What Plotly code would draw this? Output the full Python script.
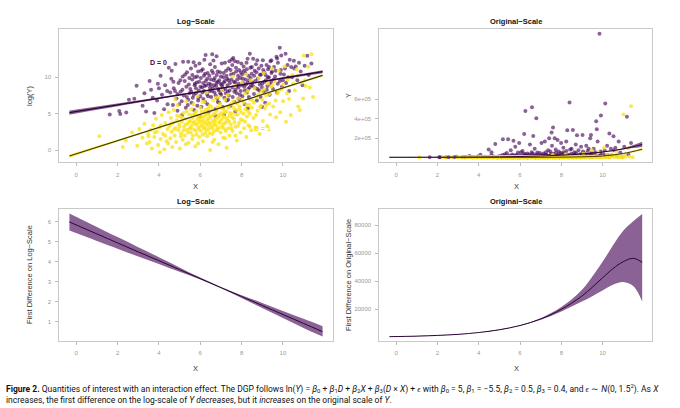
import numpy as np
import plotly.graph_objects as go

d0_points = [
    (1.62, 4.9), (2.08, 5.35), (2.13, 4.95), (2.42, 5.15), (2.55, 6.9), (2.81, 7.05), (2.92, 8.85), (3.21, 6.1), (3.38, 5.3),
    (3.55, 9.5), (3.62, 8.3), (3.78, 5.1), (3.91, 6.8), (4.08, 10.2), (4.15, 7.6), (3.7, 7.2), (4.3, 8.9), (4.42, 6.3),
    (4.25, 5.6), (3.95, 9.1), (4.48, 11.3),
    (4.55, 7.9), (4.6, 9.8), (4.68, 6.2), (4.72, 8.5), (4.8, 11.84), (4.85, 7.1), (4.9, 5.4), (4.95, 9.2), (5.17, 12.14),
    (5.05, 8.0), (5.1, 6.7), (5.15, 10.1), (5.2, 7.5), (5.25, 9.5), (5.3, 5.8), (5.33, 8.7), (5.42, 12.14), (5.42, 6.9),
    (5.45, 9.0), (5.48, 7.8), (4.62, 10.9), (5.12, 4.8), (4.78, 8.1), (5.36, 10.7), (4.98, 6.3),
    (5.52, 8.4), (5.55, 11.2), (5.58, 6.5), (5.61, 9.7), (5.64, 7.2), (5.68, 12.06), (5.7, 5.5), (5.73, 8.9), (5.77, 11.6),
    (5.8, 7.8), (5.83, 9.3), (5.86, 6.1), (5.9, 10.8), (5.93, 8.2), (5.96, 11.9), (6.0, 7.4), (6.03, 9.9), (6.06, 5.9),
    (6.09, 8.6), (6.12, 11.1), (6.15, 7.0), (6.18, 10.2), (6.21, 8.8), (6.24, 6.6), (6.27, 9.5), (6.26, 13.08), (6.33, 7.7),
    (6.36, 10.6), (6.39, 5.2), (6.42, 9.1), (6.45, 8.1), (6.48, 11.8), (5.98, 4.6), (6.2, 12.4), (5.75, 10.0),
    (6.51, 9.0), (6.53, 7.3), (6.56, 10.9), (6.58, 13.16), (6.61, 8.5), (6.64, 12.3), (6.66, 9.6), (6.69, 7.9), (6.71, 11.4),
    (6.74, 5.6), (6.77, 8.8), (6.8, 10.3), (6.82, 7.1), (6.85, 9.4), (6.79, 12.91), (6.9, 8.2), (6.93, 6.5), (6.96, 10.7),
    (6.98, 9.1), (7.01, 7.6), (7.04, 11.9), (7.06, 8.7), (7.09, 5.9), (7.12, 10.0), (7.14, 9.3), (7.17, 7.2), (7.2, 12.0),
    (7.22, 8.4), (7.25, 10.9), (7.28, 6.8), (7.3, 9.8), (7.33, 8.0), (7.36, 11.2), (7.38, 7.5), (7.41, 12.2), (7.44, 9.2),
    (7.46, 6.1), (7.49, 10.4), (6.72, 4.7), (7.15, 4.9),
    (7.53, 12.46), (7.55, 11.7), (7.57, 7.3), (7.6, 12.64), (7.63, 9.4), (7.66, 6.6), (7.68, 12.2), (7.71, 8.3), (7.74, 10.8),
    (7.77, 7.8), (7.79, 9.7), (7.82, 12.1), (7.85, 8.6), (7.88, 11.0), (7.9, 6.9), (7.93, 9.9), (7.96, 8.1), (7.99, 11.9),
    (8.02, 10.4), (8.04, 7.4), (8.07, 9.2), (8.1, 11.5), (8.13, 8.7), (8.15, 6.3), (8.18, 10.6), (8.21, 9.0), (8.24, 12.0),
    (8.26, 7.9), (8.29, 12.54), (8.32, 8.4), (8.4, 13.25), (8.38, 9.6), (8.4, 7.1), (8.43, 11.3), (8.46, 8.9), (8.49, 10.5),
    (7.7, 5.3), (8.3, 5.7),
    (8.52, 9.3), (8.56, 12.55), (8.6, 7.7), (8.63, 10.9), (8.67, 8.5), (8.7, 11.8), (8.74, 6.8), (8.76, 12.34), (8.78, 9.8),
    (8.85, 8.2), (8.89, 10.3), (8.92, 7.3), (8.96, 11.6), (9.0, 9.1), (9.03, 12.35), (9.07, 8.0), (9.1, 10.7), (9.14, 6.5),
    (9.18, 9.6), (9.21, 11.7), (9.25, 8.8), (9.28, 11.1), (9.32, 10.0), (9.36, 7.6), (9.4, 12.2), (9.44, 12.35), (9.43, 9.4),
    (9.47, 10.8), (9.0, 5.9),
    (9.52, 8.4), (9.57, 11.4), (9.62, 10.1), (9.69, 12.83), (9.71, 7.9), (9.72, 12.58), (9.76, 12.0), (9.85, 14.06),
    (9.85, 9.5), (9.9, 11.0), (9.92, 12.98), (9.95, 8.7), (10.05, 10.4), (10.13, 13.23), (10.15, 9.2), (10.22, 11.7),
    (10.3, 8.1), (10.33, 12.42), (10.44, 10.0),
    (10.53, 12.29), (10.55, 11.2), (10.62, 11.5), (10.7, 9.6), (10.78, 12.0), (10.86, 10.8), (10.95, 8.9), (11.05, 11.6),
    (11.18, 12.95), (11.25, 10.3), (11.38, 11.9),
    # dense core
    (5.04, 9.6), (5.14, 8.3), (5.27, 10.4), (5.35, 7.3), (5.47, 9.9), (5.57, 8.0), (5.62, 10.3), (5.69, 7.6), (5.74, 9.1),
    (5.79, 8.5), (5.85, 10.1), (5.91, 7.2), (5.95, 9.4), (6.01, 8.7), (6.05, 10.9), (6.1, 7.9), (6.14, 9.2), (6.19, 8.1),
    (6.23, 10.5), (6.29, 8.9), (6.34, 9.8), (6.38, 7.4), (6.44, 10.2), (6.47, 8.6), (6.52, 9.7), (6.57, 8.1), (6.62, 10.6),
    (6.67, 8.9), (6.7, 9.9), (6.75, 7.5), (6.79, 9.2), (6.84, 10.8), (6.88, 8.4), (6.92, 9.6), (6.97, 7.8), (7.0, 10.1),
    (7.05, 9.0), (7.1, 8.3), (7.13, 10.6), (7.19, 9.5), (7.24, 7.8), (7.27, 10.2), (7.32, 8.9), (7.37, 9.6), (7.42, 8.2),
    (7.47, 11.0), (7.51, 9.7), (7.56, 8.6), (7.61, 10.5), (7.65, 8.0), (7.69, 9.3), (7.73, 11.3), (7.78, 8.8), (7.83, 10.2),
    (7.87, 9.1), (7.92, 7.6), (7.97, 10.7), (8.01, 8.9), (8.06, 9.8), (8.11, 10.9), (8.16, 8.2), (8.2, 9.7), (8.25, 11.1),
    (8.3, 9.3), (8.34, 10.2), (8.39, 8.6), (8.44, 9.9), (8.5, 11.4), (8.55, 8.8), (8.61, 10.2), (8.66, 9.5), (8.72, 10.7),
    (8.77, 8.4), (8.83, 11.2), (8.88, 9.0), (8.94, 10.4), (8.99, 8.6), (9.05, 11.0), (9.11, 9.4), (9.16, 10.3), (9.22, 8.3),
    (9.27, 10.0), (9.33, 11.4), (9.39, 9.0), (9.45, 10.6), (9.55, 9.7), (9.65, 10.9), (9.75, 9.1), (9.88, 10.5), (10.0, 9.6),
    (10.1, 11.2), (10.25, 10.0), (10.4, 11.4), (5.4, 6.2), (5.9, 6.8), (6.35, 6.3), (6.85, 6.6), (7.35, 6.9), (7.85, 7.1),
    (8.35, 7.3), (4.4, 8.1), (4.7, 9.4), (4.9, 7.7), (3.3, 7.8), (4.0, 8.5),
]

d1_points = [
    (1.12, 1.9), (2.25, 0.4), (2.4, 1.3), (2.7, 2.4), (2.95, 0.6), (3.05, 2.9), (3.2, 1.7), (3.3, 3.6), (3.42, 0.9), (3.48, 2.2),
    (3.55, 1.1), (3.6, 2.8), (3.66, 0.2), (3.72, 3.4), (3.78, 1.8), (3.85, 4.3), (3.9, 2.5), (3.96, 0.7), (4.02, 3.1),
    (4.08, 1.5), (4.14, 4.8), (4.2, 2.2), (4.26, 0.1), (4.31, 3.7), (4.37, 1.2), (4.42, 2.9), (4.47, 5.2), (4.05, -0.3),
    (4.52, 3.3), (4.55, 1.6), (4.58, 4.4), (4.62, 2.5), (4.65, 0.4), (4.69, 3.8), (4.72, 5.5), (4.76, 2.0), (4.8, 3.0),
    (4.83, 1.1), (4.87, 4.1), (4.9, 6.2), (4.94, 2.7), (4.97, 3.5), (5.01, 0.2), (5.04, 4.6), (5.08, 2.3), (5.11, 3.9),
    (5.15, 1.4), (5.18, 5.1), (5.22, 3.2), (5.25, 2.0), (5.29, 4.3), (5.32, 6.7), (5.36, 2.8), (5.39, 3.6), (5.43, 1.0),
    (5.46, 4.9), (5.49, 3.0), (4.78, 7.0),
    (5.51, 4.0), (5.53, 2.4), (5.56, 5.6), (5.58, 3.3), (5.61, 1.5), (5.63, 4.4), (5.66, 3.7), (5.68, 6.3), (5.71, 2.8),
    (5.73, 4.9), (5.76, 0.5), (5.78, 3.5), (5.81, 5.3), (5.83, 2.1), (5.86, 4.2), (5.88, 7.4), (5.91, 3.1), (5.93, 4.7),
    (5.96, 1.8), (5.98, 3.9), (6.01, 5.8), (6.03, 2.6), (6.06, 4.5), (6.08, 3.4), (6.11, 6.6), (6.13, 1.2), (6.16, 4.1),
    (6.18, 3.0), (6.21, 5.2), (6.23, 2.3), (6.26, 4.8), (6.28, 3.6), (6.31, 7.9), (6.33, 1.9), (6.36, 4.3), (6.38, 5.7),
    (6.41, 2.9), (6.43, 3.8), (6.46, 6.1), (6.48, 0.0),
    (6.51, 4.6), (6.53, 3.2), (6.56, 5.4), (6.58, 2.2), (6.61, 4.0), (6.63, 6.8), (6.66, 3.5), (6.68, 1.4), (6.71, 5.0),
    (6.73, 3.9), (6.76, 7.2), (6.78, 2.7), (6.81, 4.4), (6.83, 5.9), (6.86, 3.1), (6.88, 0.8), (6.91, 4.8), (6.93, 3.7),
    (6.96, 6.4), (6.98, 2.4), (7.01, 5.1), (7.03, 4.2), (7.06, 8.3), (7.08, 3.3), (7.11, 1.7), (7.13, 5.6), (7.16, 4.5),
    (7.18, 2.9), (7.21, 6.9), (7.23, 3.8), (7.26, 5.3), (7.28, 0.3), (7.31, 4.1), (7.33, 7.6), (7.36, 3.0), (7.38, 5.8),
    (7.41, 2.0), (7.43, 4.7), (7.46, 6.3), (7.48, 3.5),
    (7.52, 5.0), (7.56, 2.6), (7.6, 6.7), (7.63, 4.3), (7.67, 8.8), (7.7, 3.2), (7.74, 5.5), (7.77, 1.3), (7.81, 4.9),
    (7.84, 7.1), (7.88, 3.7), (7.91, 6.0), (7.95, 2.4), (7.98, 5.2), (8.02, 9.2), (8.05, 4.1), (8.09, 6.5), (8.12, 3.0),
    (8.16, 7.8), (8.19, 5.6), (8.23, 1.8), (8.26, 4.6), (8.3, 8.1), (8.33, 3.4), (8.37, 6.2), (8.4, 5.0), (8.44, 9.6),
    (8.47, 2.7), (7.58, 10.1), (8.21, 10.4),
    (8.53, 6.8), (8.58, 4.4), (8.63, 8.5), (8.68, 3.1), (8.73, 7.3), (8.78, 5.4), (8.83, 9.9), (8.88, 2.2), (8.93, 6.1),
    (8.98, 8.0), (9.03, 4.0), (9.08, 10.6), (9.13, 5.7), (9.18, 7.5), (9.23, 3.3), (9.28, 9.1), (9.33, 6.4), (9.38, 4.9),
    (9.43, 8.7), (9.48, 11.2),
    (9.53, 6.0), (9.6, 9.4), (9.67, 4.5), (9.74, 7.8), (9.8, 10.9), (9.87, 5.2), (9.94, 8.4), (10.01, 6.7), (10.08, 11.5),
    (10.15, 3.9), (10.22, 9.7), (10.3, 7.0), (10.38, 4.8), (10.45, 10.3),
    (10.58, 8.2), (10.66, 11.1), (10.74, 6.0), (10.82, 5.5), (10.9, 9.3), (10.98, 7.1), (11.01, 13.0), (11.06, 9.6),
    (11.23, 11.46), (11.38, 13.18), (11.46, 7.3), (11.3, 8.6),
    # dense core
    (4.6, 3.6), (4.75, 2.9), (4.88, 4.7), (5.0, 3.2), (5.06, 1.9), (5.13, 4.4), (5.2, 2.7), (5.28, 3.5), (5.34, 5.3),
    (5.41, 2.4), (5.47, 3.9), (5.54, 3.0), (5.6, 4.8), (5.65, 2.0), (5.7, 3.9), (5.75, 5.1), (5.8, 2.6), (5.85, 3.6),
    (5.89, 4.6), (5.94, 2.9), (6.0, 4.1), (6.04, 3.3), (6.07, 5.3), (6.12, 2.1), (6.15, 3.8), (6.19, 4.6), (6.22, 3.1),
    (6.27, 5.5), (6.3, 2.7), (6.34, 4.0), (6.37, 3.4), (6.4, 4.9), (6.44, 2.3), (6.47, 4.4), (6.5, 3.6), (6.55, 5.9),
    (6.59, 3.0), (6.62, 4.8), (6.65, 2.5), (6.7, 4.2), (6.74, 3.4), (6.79, 5.4), (6.84, 2.8), (6.89, 4.6), (6.94, 3.9),
    (6.99, 5.8), (7.04, 3.1), (7.09, 4.8), (7.14, 3.6), (7.19, 5.2), (7.24, 2.6), (7.29, 4.4), (7.34, 6.0), (7.39, 3.9),
    (7.44, 5.1), (7.5, 3.0), (7.55, 4.5), (7.61, 5.8), (7.66, 3.8), (7.72, 4.9), (7.78, 6.4), (7.83, 3.3), (7.9, 5.6),
    (7.96, 4.2), (8.03, 6.9), (8.1, 5.0), (8.17, 3.9), (8.25, 6.2), (8.32, 5.3), (8.42, 7.0), (8.5, 5.8), (8.6, 6.5),
    (8.7, 4.8), (8.8, 7.6), (8.9, 5.9), (9.0, 6.9), (9.1, 8.4), (9.2, 6.2), (9.35, 7.7), (9.5, 8.9), (9.65, 6.8), (9.8, 8.1),
    (10.0, 9.0), (10.2, 7.8), (10.5, 9.1), (10.7, 10.2), (11.1, 8.8), (4.3, 2.0), (4.1, 3.4), (3.8, 2.4), (3.5, 1.9),
    (4.45, 0.9), (5.3, 0.8), (5.9, 0.9), (6.6, 1.1), (7.2, 1.6), (7.7, 2.0), (8.4, 3.2), (6.2, 6.6), (6.9, 7.3),
]

# fitted regression lines on the log scale
fit_x = [-0.33, 6.9, 11.92]
fit_d0 = [5.14, 8.45, 10.77]
fit_d0_lo = [4.86, 8.38, 10.57]
fit_d0_hi = [5.42, 8.52, 10.97]
fit_d1 = [-0.83, 5.72, 10.27]
fit_d1_lo = [-1.05, 5.66, 10.11]
fit_d1_hi = [-0.61, 5.78, 10.43]

# fitted curves on the original scale
orig_x = [-0.33, 1, 2, 3, 4, 5, 6, 7, 8, 9, 10, 11, 11.92]
orig_d0 = [480, 880, 1400, 2220, 3500, 5550, 8800, 14000, 22100, 35000, 55500, 88000, 133000]
orig_d0_lo = [430, 820, 1330, 2130, 3390, 5420, 8620, 13700, 21500, 33800, 52800, 82000, 106000]
orig_d0_hi = [530, 940, 1470, 2310, 3610, 5680, 8980, 14300, 22700, 36200, 58200, 94000, 162000]
orig_d1 = [1.3, 4.2, 10, 25, 62, 152, 375, 920, 2260, 5570, 13700, 40000, 84000]
orig_d1_lo = [1.0, 3.5, 8.5, 21, 54, 135, 340, 850, 2120, 5250, 12800, 36000, 72000]
orig_d1_hi = [1.6, 4.9, 11.5, 29, 70, 169, 410, 990, 2400, 5900, 14600, 44000, 96000]

# first differences, log scale
fd_x = [-0.33, 1, 2, 3, 4, 5, 6, 7, 8, 9, 10, 11, 11.92]
fd_log = [6.0, 5.40, 4.95, 4.50, 4.06, 3.61, 3.16, 2.71, 2.26, 1.81, 1.36, 0.91, 0.50]
fd_log_lo = [5.57, 5.05, 4.66, 4.27, 3.89, 3.50, 3.11, 2.68, 2.19, 1.68, 1.18, 0.68, 0.25]
fd_log_hi = [6.43, 5.75, 5.24, 4.73, 4.23, 3.72, 3.21, 2.74, 2.33, 1.94, 1.54, 1.14, 0.77]

# first differences, original scale
fo_x = [-0.33, 1, 2, 3, 4, 5, 6, 7, 8, 9, 10, 10.5, 11, 11.5, 11.92]
fd_orig = [480, 870, 1390, 2140, 3450, 5420, 8450, 13100, 20000, 29500, 42500, 49000, 54000, 56400, 53600]
fd_orig_lo = [470, 850, 1360, 2100, 3380, 5300, 8200, 12500, 18500, 25500, 33500, 37500, 39500, 36500, 25500]
fd_orig_hi = [490, 890, 1420, 2180, 3520, 5540, 8700, 13700, 21600, 34000, 54000, 65500, 76000, 83000, 88000]

x_ticks = [0, 2, 4, 6, 8, 10]
logy_ticks = [0, 5, 10]
y_ticks = [200000, 400000, 600000]
y_ticktext = ["2e+05", "4e+05", "6e+05"]
fdlog_ticks = [1, 2, 3, 4, 5, 6]
fdorig_ticks = [20000, 40000, 60000, 80000]

x0, logy0 = zip(*d0_points)
x1, logy1 = zip(*d1_points)
y0 = np.exp(logy0)
y1 = np.exp(logy1)

PURPLE = "#440154"
PT0 = "rgba(68,1,84,0.62)"
PT1 = "rgba(250,228,30,0.8)"
BAND = "rgba(68,1,84,0.62)"
BAND_Y = "rgba(253,231,37,0.85)"
DARK = "#2a0636"
OLIVE = "#3d3a05"

fig = go.Figure()


def band(x, lo, hi, color, xa, ya):
    fig.add_trace(go.Scatter(x=x, y=lo, mode="lines", line=dict(width=0), xaxis=xa, yaxis=ya,
                             line_shape="spline", hoverinfo="skip"))
    fig.add_trace(go.Scatter(x=x, y=hi, mode="lines", line=dict(width=0), fill="tonexty",
                             fillcolor=color, xaxis=xa, yaxis=ya, line_shape="spline", hoverinfo="skip"))


def line(x, y, color, width, xa, ya):
    fig.add_trace(go.Scatter(x=x, y=y, mode="lines", line=dict(color=color, width=width, shape="spline"),
                             xaxis=xa, yaxis=ya))


# top left: log scale scatter
fig.add_trace(go.Scatter(x=x0, y=logy0, mode="markers", marker=dict(size=4, color=PT0), xaxis="x", yaxis="y"))
fig.add_trace(go.Scatter(x=x1, y=logy1, mode="markers", marker=dict(size=4, color=PT1), xaxis="x", yaxis="y"))
band(fit_x, fit_d0_lo, fit_d0_hi, BAND, "x", "y")
line(fit_x, fit_d0, DARK, 1.2, "x", "y")
band(fit_x, fit_d1_lo, fit_d1_hi, BAND_Y, "x", "y")
line(fit_x, fit_d1, OLIVE, 1.2, "x", "y")

# top right: original scale scatter
fig.add_trace(go.Scatter(x=x0, y=y0, mode="markers", marker=dict(size=4, color=PT0), xaxis="x2", yaxis="y2"))
fig.add_trace(go.Scatter(x=x1, y=y1, mode="markers", marker=dict(size=4, color=PT1), xaxis="x2", yaxis="y2"))
band(orig_x, orig_d0_lo, orig_d0_hi, BAND, "x2", "y2")
line(orig_x, orig_d0, DARK, 1, "x2", "y2")
band(orig_x, orig_d1_lo, orig_d1_hi, BAND_Y, "x2", "y2")
line(orig_x, orig_d1, OLIVE, 1, "x2", "y2")

# bottom left: first difference, log scale
band(fd_x, fd_log_lo, fd_log_hi, BAND, "x3", "y3")
line(fd_x, fd_log, DARK, 1, "x3", "y3")

# bottom right: first difference, original scale
band(fo_x, fd_orig_lo, fd_orig_hi, BAND, "x4", "y4")
line(fo_x, fd_orig, DARK, 1, "x4", "y4")

W, H = 680, 408
left_dom = [59.3 / W, 332.7 / W]
right_dom = [379.3 / W, 652.3 / W]
top_dom = [1 - 162.3 / H, 1 - 29 / H]
bot_dom = [1 - 341 / H, 1 - 209 / H]
xrange_ = [-0.82, 12.41]

axis_style = dict(showline=True, mirror=True, linecolor="#c9c9c9", linewidth=1, ticks="outside",
                  ticklen=3, tickcolor="#bbbbbb", tickfont=dict(size=6, color="#999999", family="Liberation Sans"),
                  showgrid=False, zeroline=False, ticklabelstandoff=3)

fig.update_layout(
    width=W, height=H, margin=dict(l=0, r=0, t=0, b=0), showlegend=False,
    paper_bgcolor="white", plot_bgcolor="white",
    xaxis=dict(domain=left_dom, anchor="y", range=xrange_, tickvals=x_ticks, **axis_style),
    yaxis=dict(domain=top_dom, anchor="x", range=[-1.69, 16.64], tickvals=logy_ticks, **axis_style),
    xaxis2=dict(domain=right_dom, anchor="y2", range=xrange_, tickvals=x_ticks, **axis_style),
    yaxis2=dict(domain=top_dom, anchor="x2", range=[-51000, 1327000], tickvals=y_ticks, ticktext=y_ticktext,
                **axis_style),
    xaxis3=dict(domain=left_dom, anchor="y3", range=xrange_, tickvals=x_ticks, **axis_style),
    yaxis3=dict(domain=bot_dom, anchor="x3", range=[0.03, 6.65], tickvals=fdlog_ticks, **axis_style),
    xaxis4=dict(domain=right_dom, anchor="y4", range=xrange_, tickvals=x_ticks, **axis_style),
    yaxis4=dict(domain=bot_dom, anchor="x4", range=[-2600, 91600], tickvals=fdorig_ticks, tickformat="d",
                **axis_style),
)

title_font = dict(family="Liberation Sans", size=7.5, color="#111111")
label_font = dict(family="Liberation Sans", size=7.5, color="#333333")


def text(px, py, s, font, angle=0, xanchor="center"):
    fig.add_annotation(x=px / W, y=1 - py / H, xref="paper", yref="paper", text=s, showarrow=False,
                       font=font, textangle=angle, xanchor=xanchor, yanchor="middle")


text(196, 21, "<b>Log−Scale</b>", title_font)
text(516, 21, "<b>Original−Scale</b>", title_font)
text(196, 201, "<b>Log−Scale</b>", title_font)
text(516, 201, "<b>Original−Scale</b>", title_font)
for cx in (196, 516):
    text(cx, 187, "X", label_font)
    text(cx, 368, "X", label_font)
text(29, 96, "log(Y)", label_font, -90)
text(348, 96, "Y", label_font, -90)
text(29, 275, "First Difference on Log−Scale", label_font, -90)
text(348, 275, "First Difference on Original−Scale", label_font, -90)

fig.add_annotation(x=4.0, y=12.0, xref="x", yref="y", text="<b>D = 0</b>", showarrow=False,
                   font=dict(family="Liberation Sans", size=7, color=PURPLE))
fig.add_annotation(x=9.0, y=2.9, xref="x", yref="y", text="<b>D = 1</b>", showarrow=False,
                   font=dict(family="Liberation Sans", size=7, color="#f3dc30"))

cap_font = dict(family="Roboto", size=8.5, color="#111111")
cap1 = ("<b>Figure 2.</b> Quantities of interest with an interaction effect. The DGP follows "
        "ln(<i>Y</i>) = <i>β</i><sub>0</sub> + <i>β</i><sub>1</sub><i>D</i> + <i>β</i><sub>2</sub><i>X</i> + "
        "<i>β</i><sub>3</sub>(<i>D</i> × <i>X</i>) + <i>ϵ</i> with <i>β</i><sub>0</sub> = 5, "
        "<i>β</i><sub>1</sub> = −5.5, <i>β</i><sub>2</sub> = 0.5, <i>β</i><sub>3</sub> = 0.4, and "
        "<i>ϵ</i> ∼ <i>N</i>(0, 1.5<sup>2</sup>). As <i>X</i>")
cap2 = ("increases, the first difference on the log-scale of <i>Y decreases</i>, but it <i>increases</i> "
        "on the original scale of <i>Y</i>.")
text(4, 388, cap1, cap_font, xanchor="left")
text(4, 400, cap2, cap_font, xanchor="left")

fig.write_html("out.html", config={"displayModeBar": False},
               post_script="document.body.style.margin='0';")
